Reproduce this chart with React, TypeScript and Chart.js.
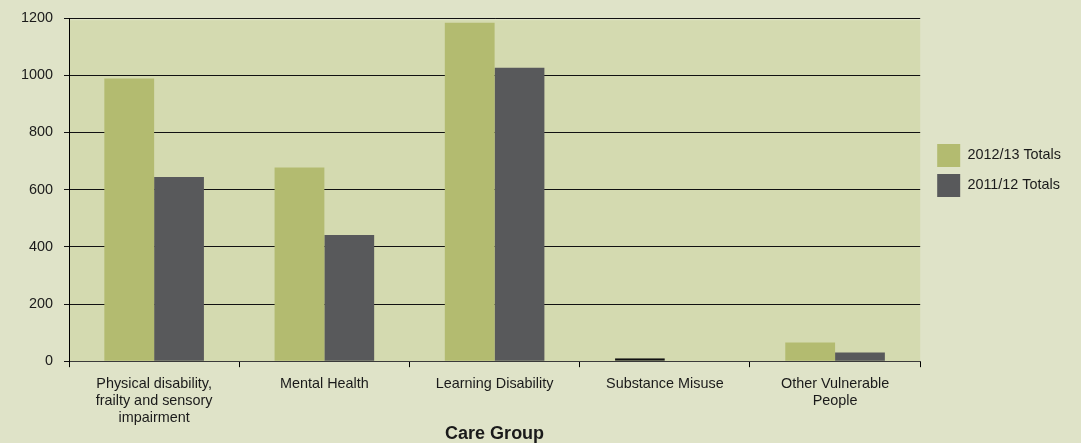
import React, { useEffect, useRef } from "react";
import { Chart, registerables } from "chart.js";

Chart.register(...registerables);

// Care group categories (multi-line labels are arrays of lines)
const categories: (string | string[])[] = [
  ["Physical disability,", "frailty and sensory", "impairment"],
  "Mental Health",
  "Learning Disability",
  "Substance Misuse",
  ["Other Vulnerable", "People"],
];

const seriesNames = ["2012/13 Totals", "2011/12 Totals"];
const totals2012_13 = [989, 678, 1184, 3, 65];
const totals2011_12 = [644, 441, 1027, 0, 30];

const yTickValues = [0, 200, 400, 600, 800, 1000, 1200];

const PAGE_BG = "#dfe3c8";
const PLOT_BG = "#d4dab0";
const GREEN = "#b3bb70";
const GREY = "#58595b";
const TEXT = "#1a1a1a";
const FONT = "'Liberation Sans', Arial, sans-serif";

// Paints the plot area a shade darker than the page
const plotBackground = {
  id: "plotBackground",
  beforeDraw(chart: any) {
    const { ctx, chartArea } = chart;
    if (!chartArea) return;
    ctx.save();
    ctx.fillStyle = PLOT_BG;
    ctx.fillRect(
      chartArea.left,
      chartArea.top + 2,
      chartArea.right - chartArea.left,
      chartArea.bottom - chartArea.top - 2
    );
    ctx.restore();
  },
};

// Nudges the legend block away from the plot and upward
const legendNudge = {
  id: "legendNudge",
  afterLayout(chart: any) {
    const lg = chart.legend;
    if (!lg) return;
    const dx = 10;
    const dy = -52;
    lg.left += dx;
    lg.right += dx;
    lg.top += dy;
    lg.bottom += dy;
  },
};

export default function App() {
  const canvasRef = useRef<HTMLCanvasElement | null>(null);

  useEffect(() => {
    if (!canvasRef.current) return;
    Chart.defaults.font.family = FONT;
    const chart = new Chart(canvasRef.current, {
      type: "bar",
      data: {
        labels: categories,
        datasets: [
          {
            label: seriesNames[0],
            data: totals2012_13,
            backgroundColor: GREEN,
            // near-zero bars show up as a dark sliver on the axis
            borderColor: "#111",
            borderWidth: (c: any) => (c.raw !== undefined && c.raw < 10 ? 2 : 0),
            borderSkipped: false,
            minBarLength: 3,
            categoryPercentage: 0.585,
            barPercentage: 1.0,
          },
          {
            label: seriesNames[1],
            data: totals2011_12,
            backgroundColor: GREY,
            borderWidth: 0,
            categoryPercentage: 0.585,
            barPercentage: 1.0,
          },
        ],
      },
      options: {
        responsive: false,
        animation: false,
        layout: { padding: { left: 10, right: 20, top: 2, bottom: 0 } },
        plugins: {
          legend: {
            position: "right",
            labels: {
              boxWidth: 23,
              boxHeight: 23,
              padding: 7,
              color: TEXT,
              font: { size: 14.4, family: FONT },
              generateLabels(chart: any) {
                return chart.data.datasets.map((ds: any, i: number) => ({
                  text: ds.label,
                  fillStyle: ds.backgroundColor,
                  strokeStyle: ds.backgroundColor,
                  lineWidth: 0,
                  fontColor: TEXT,
                  hidden: false,
                  datasetIndex: i,
                }));
              },
            },
          },
          tooltip: { enabled: false },
        },
        scales: {
          x: {
            offset: true,
            grid: {
              offset: true,
              drawOnChartArea: false,
              drawTicks: true,
              tickLength: 6,
              color: "#000",
            },
            border: { color: "#3a3a3a", width: 1 },
            ticks: {
              padding: 8,
              color: TEXT,
              autoSkip: false,
              maxRotation: 0,
              font: { size: 14.4, family: FONT, lineHeight: 1.2 },
            },
            title: {
              display: true,
              text: "Care Group",
              color: TEXT,
              font: { size: 18, weight: "bold", family: FONT, lineHeight: 1 },
              padding: { top: -10, bottom: 0 },
            },
          },
          y: {
            min: yTickValues[0],
            max: yTickValues[yTickValues.length - 1],
            afterBuildTicks(scale: any) {
              scale.ticks = yTickValues.map((v) => ({ value: v }));
            },
            grid: {
              color: "#111",
              lineWidth: 1,
              tickLength: 5,
            },
            border: { color: "#000", width: 1 },
            ticks: {
              padding: 11,
              color: TEXT,
              font: { size: 14.4, family: FONT, lineHeight: 1 },
              callback: (v: any) => String(v),
            },
          },
        },
      },
      plugins: [plotBackground, legendNudge],
    });
    return () => chart.destroy();
  }, []);

  return (
    <div
      style={{
        position: "fixed",
        left: 0,
        top: 0,
        width: 1081,
        height: 443,
        background: PAGE_BG,
      }}
    >
      <canvas ref={canvasRef} width={1081} height={443} />
    </div>
  );
}
